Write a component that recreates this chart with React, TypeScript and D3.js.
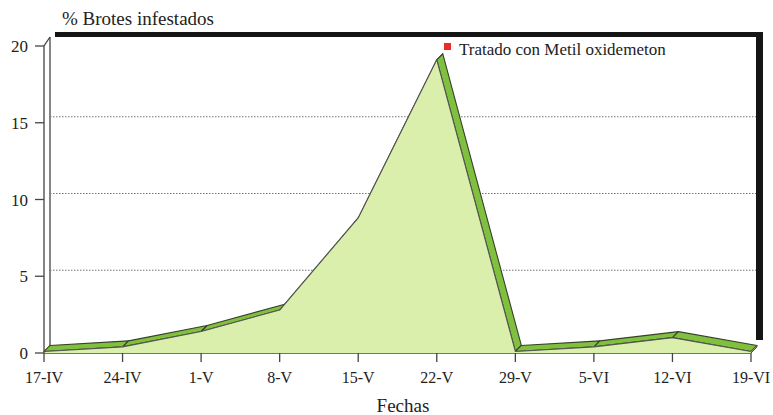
import React from "react";
import * as d3 from "d3";

// Weekly sampling dates and % of infested shoots
const dates = ["17-IV", "24-IV", "1-V", "8-V", "15-V", "22-V", "29-V", "5-VI", "12-VI", "19-VI"];
const infested = [0.1, 0.4, 1.4, 2.8, 8.8, 19.1, 0.1, 0.4, 1.0, 0.1];
const yTicks = [0, 5, 10, 15, 20];
const yTitle = "% Brotes infestados";
const xTitle = "Fechas";
const legendLabel = "Tratado con Metil oxidemeton";

const W = 773;
const H = 415;
const DX = 6; // depth offset of the 3D effect
const DY = -6;
const FONT = "'Liberation Serif', 'Times New Roman', serif";

export default function App() {
  const x = d3.scalePoint<string>().domain(dates).range([44, 751]);
  const y = d3.scaleLinear().domain([0, 20]).range([353, 46]);

  const front = dates.map((d, i) => [x(d) as number, y(infested[i])] as [number, number]);
  const back = front.map(([px, py]) => [px + DX, py + DY] as [number, number]);

  const area = d3
    .area<[number, number]>()
    .x((p) => p[0])
    .y0(y(0))
    .y1((p) => p[1]);
  const line = d3.line<[number, number]>();

  const wallL = 44 + DX;
  const wallR = 751 + DX - 1;
  const wallT = y(20) + DY - 3;
  const wallB = y(0) + DY;

  const last = front[front.length - 1];
  const lastB = back[back.length - 1];

  return (
    <svg
      width={W}
      height={H}
      style={{ position: "absolute", left: 0, top: 0, background: "#fff" }}
      fontFamily={FONT}
    >
      {/* back wall with its dark shadow */}
      <rect x={wallL + 5} y={wallT - 5} width={wallR - wallL + 2} height={wallB - wallT - 2} fill="#151515" />
      <rect x={wallL} y={wallT} width={wallR - wallL} height={wallB - wallT} fill="#fff" />
      <line x1={wallL} x2={wallL} y1={wallT} y2={wallB} stroke="#444" strokeWidth={1.3} />
      <line x1={wallL} x2={wallR} y1={wallB} y2={wallB} stroke="#444" strokeWidth={1} />

      {/* dotted gridlines on the wall */}
      {yTicks
        .filter((t) => t > 0 && t < 20)
        .map((t) => (
          <line
            key={t}
            x1={wallL}
            x2={wallR}
            y1={y(t) + DY}
            y2={y(t) + DY}
            stroke="#777"
            strokeWidth={1}
            strokeDasharray="1.5,1.5"
          />
        ))}

      {/* floor edge */}
      <line x1={44} x2={751} y1={y(0)} y2={y(0)} stroke="#444" strokeWidth={1.3} />
      <line x1={751} x2={751 + DX} y1={y(0)} y2={y(0) + DY} stroke="#444" strokeWidth={1} />

      {/* top faces of the ribbon */}
      {front.slice(0, -1).map((p, i) => {
        const pts = [p, front[i + 1], back[i + 1], back[i]];
        return (
          <polygon
            key={i}
            points={pts.map((q) => q.join(",")).join(" ")}
            fill="#80c03f"
            stroke="#39402a"
            strokeWidth={1.1}
            strokeLinejoin="round"
          />
        );
      })}

      {/* right end cap */}
      <polygon
        points={[last, lastB, [lastB[0], y(0) + DY], [last[0], y(0)]].map((q) => q.join(",")).join(" ")}
        fill="#c9e59a"
        stroke="#39402a"
        strokeWidth={0.8}
      />

      {/* front face */}
      <path d={area(front) as string} fill="#dbefad" />
      <path d={line(front) as string} fill="none" stroke="#555" strokeWidth={1.1} strokeLinejoin="round" />

      {/* y axis */}
      <path d={`M44,${y(0)} L44,${y(20)} L${wallL},${wallT}`} fill="none" stroke="#444" strokeWidth={1.3} />
      {yTicks.map((t) => (
        <g key={t}>
          <line x1={35} x2={44} y1={y(t)} y2={y(t)} stroke="#444" strokeWidth={1.3} />
          <text x={28} y={y(t) + 6} textAnchor="end" fontSize={17} fill="#222">
            {t}
          </text>
        </g>
      ))}

      {/* x axis */}
      {dates.map((d) => (
        <g key={d}>
          <line x1={x(d)} x2={x(d)} y1={y(0)} y2={y(0) + 9} stroke="#444" strokeWidth={1.3} />
          <text x={x(d)} y={383} textAnchor="middle" fontSize={16} fill="#222">
            {d}
          </text>
        </g>
      ))}

      {/* titles */}
      <text x={62} y={25} fontSize={19} fill="#222">
        {yTitle}
      </text>
      <text x={403} y={412} textAnchor="middle" fontSize={19} fill="#222">
        {xTitle}
      </text>

      {/* legend */}
      <rect x={444} y={43} width={7} height={7} fill="#ec2a2a" />
      <text x={459} y={55} fontSize={17} fill="#222">
        {legendLabel}
      </text>
    </svg>
  );
}
